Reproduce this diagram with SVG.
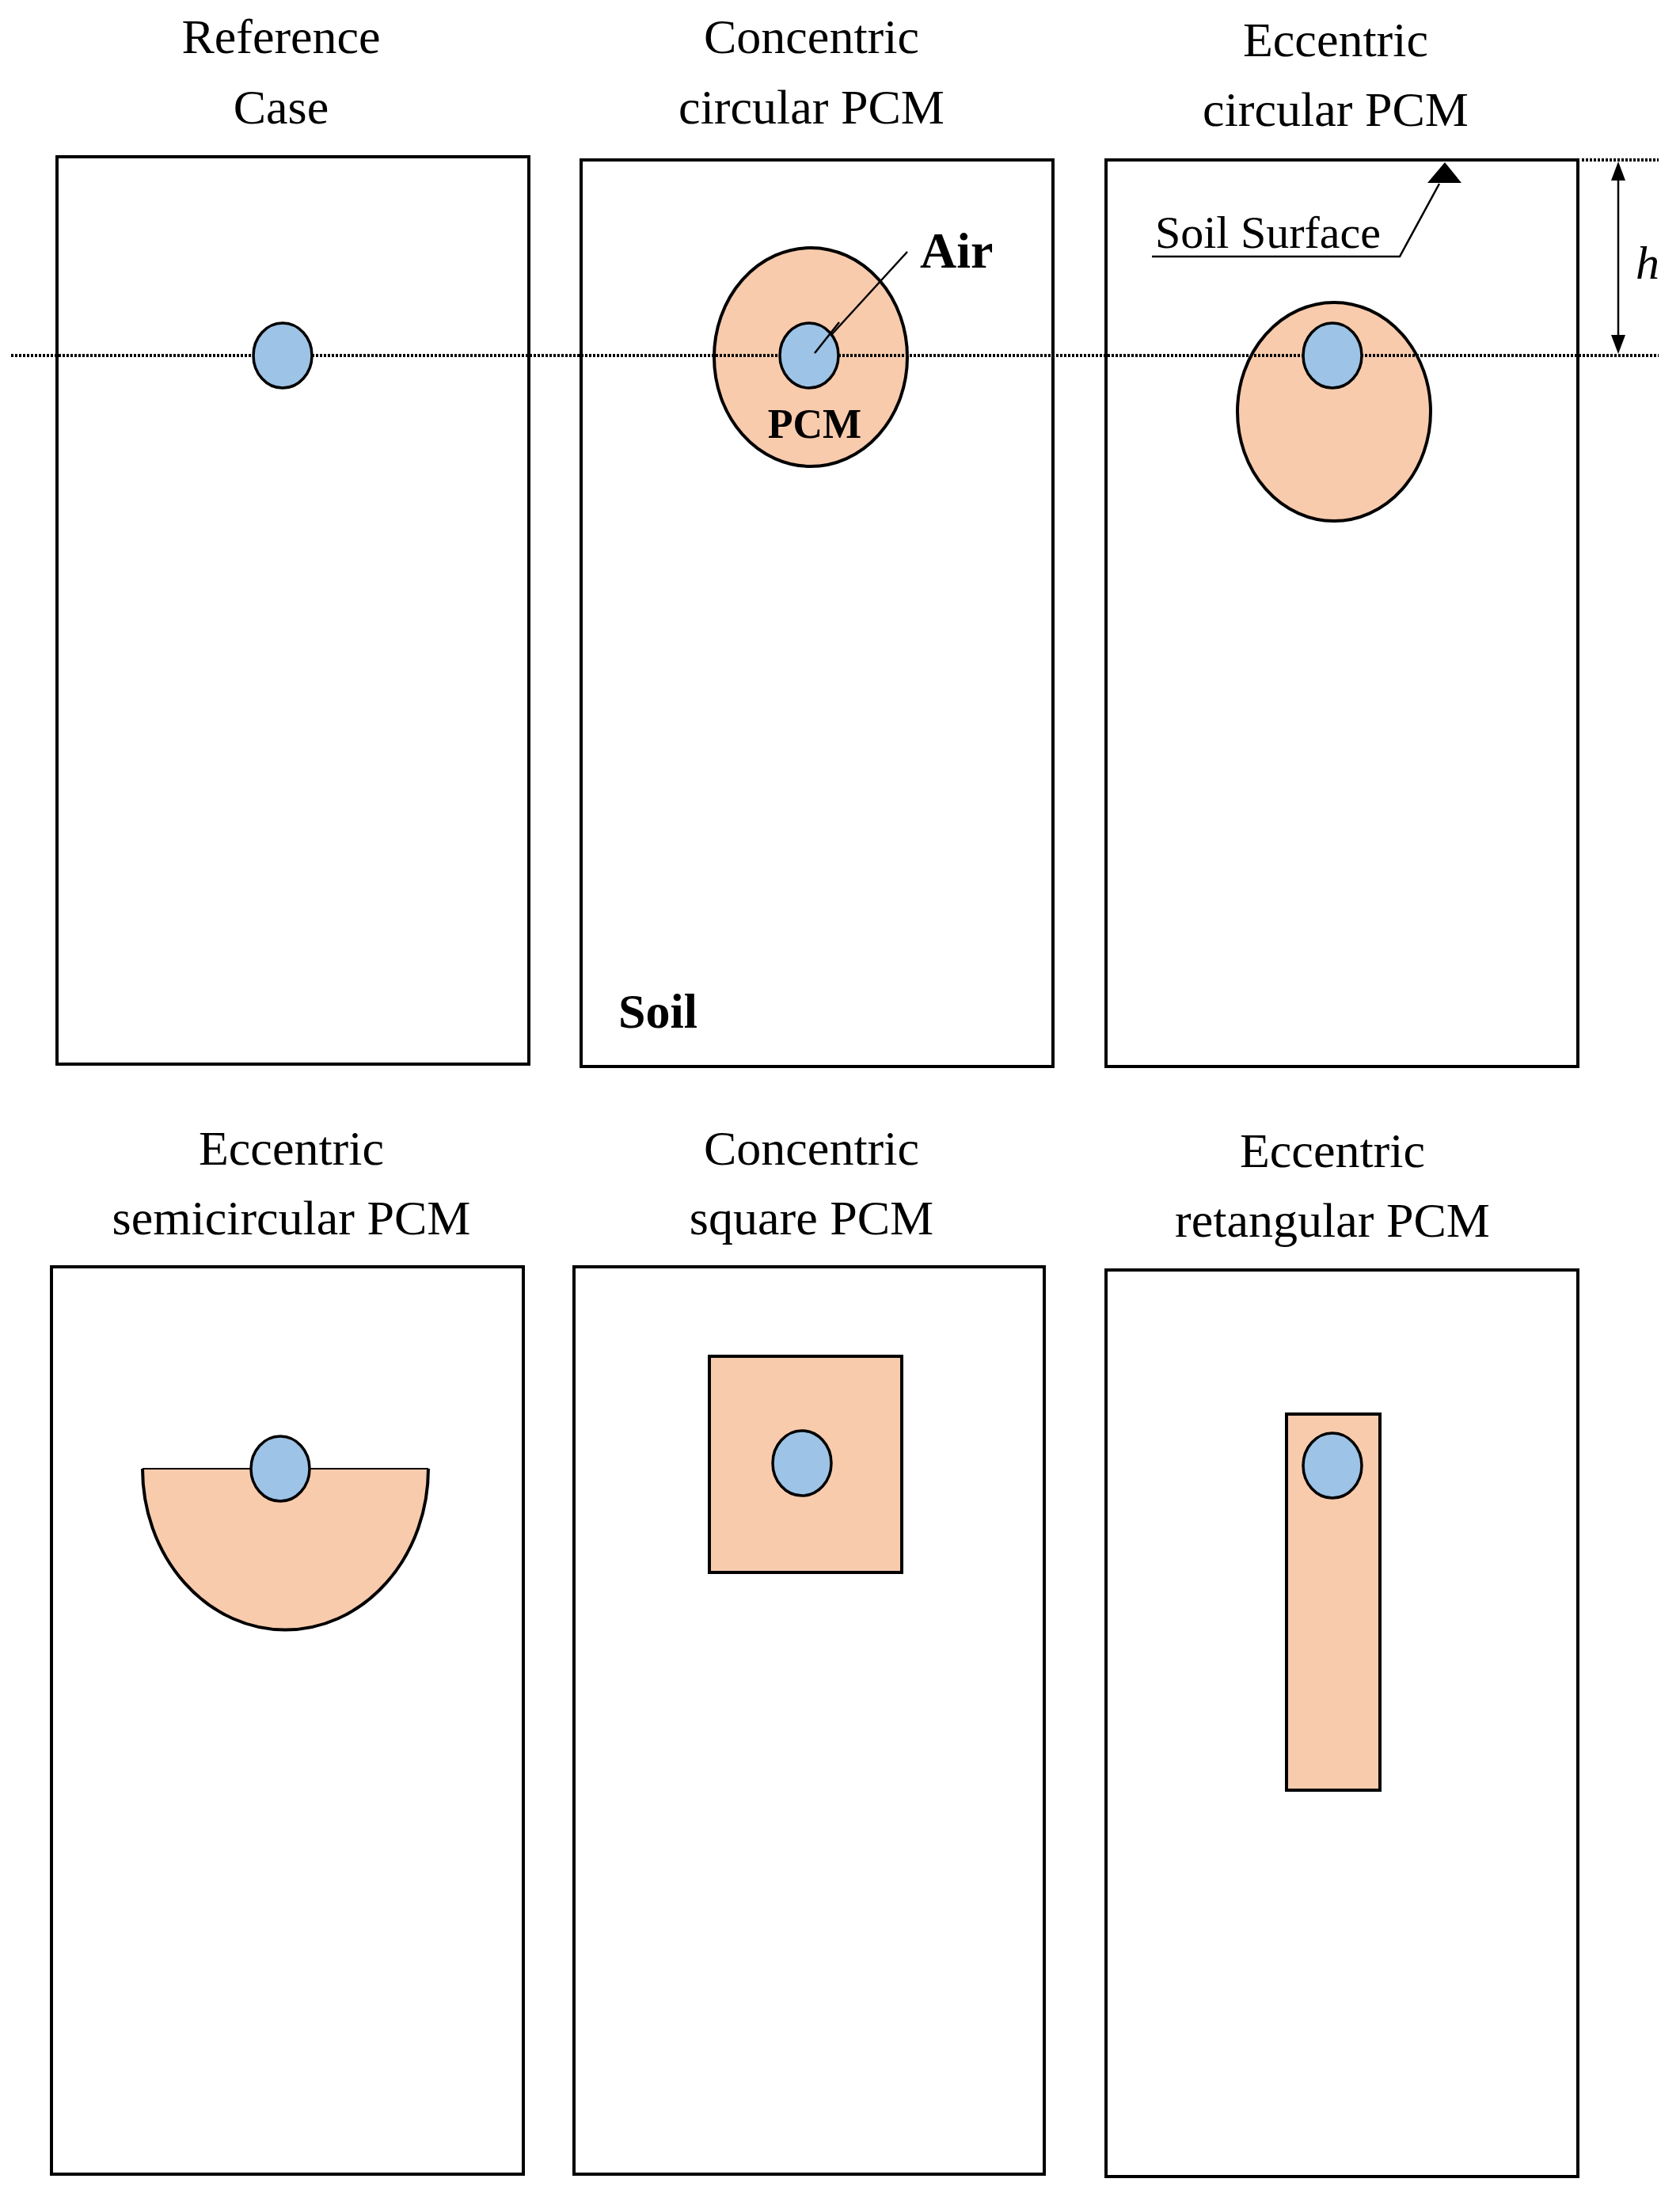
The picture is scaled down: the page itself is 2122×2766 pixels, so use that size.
<svg xmlns="http://www.w3.org/2000/svg" width="2122" height="2766" viewBox="0 0 2122 2766">
<style>
.box{fill:#fff;stroke:#000;stroke-width:4}
.pcm{fill:#F8CBAD;stroke:#000;stroke-width:4}
.air{fill:#9DC3E6;stroke:#000;stroke-width:3.5}
.t{font-family:"Liberation Serif",serif;font-size:62px;text-anchor:middle;fill:#000}
.b{font-family:"Liberation Serif",serif;font-weight:bold;fill:#000}
.ln{stroke:#000;stroke-width:2.5;fill:none}
.dot{stroke:#000;stroke-width:4;stroke-dasharray:3,2}
</style>
<rect width="2122" height="2766" fill="#fff"/>
<g id="case1">
<text class="t" x="355" y="67">Reference</text><text class="t" x="355" y="156">Case</text>
<rect class="box" x="72" y="198" width="596" height="1146"/>
</g>
<g id="case2">
<text class="t" x="1025" y="67">Concentric</text><text class="t" x="1025" y="156">circular PCM</text>
<rect class="box" x="734" y="202" width="596" height="1145"/>
<ellipse class="pcm" cx="1024" cy="451" rx="122" ry="138"/>
<text class="b" x="1029" y="553" font-size="52" text-anchor="middle">PCM</text>
<text class="b" x="1162" y="338" font-size="64">Air</text>
<text class="b" x="781" y="1298" font-size="62">Soil</text>
</g>
<g id="case3">
<text class="t" x="1687" y="71">Eccentric</text><text class="t" x="1687" y="159">circular PCM</text>
<rect class="box" x="1397" y="202" width="596" height="1145"/>
<ellipse class="pcm" cx="1685" cy="520" rx="122" ry="138"/>
<text x="1459" y="313" font-family="Liberation Serif,serif" font-size="58">Soil Surface</text>
<text x="2066" y="352" font-family="Liberation Serif,serif" font-style="italic" font-size="60">h</text>
</g>
<g id="case4">
<text class="t" x="368" y="1471">Eccentric</text><text class="t" x="368" y="1559">semicircular PCM</text>
<rect class="box" x="65" y="1600" width="596" height="1146"/>
<path class="pcm" d="M180,1855 A180,203 0 0 0 541,1855"/>
<line x1="180" y1="1855" x2="541" y2="1855" stroke="#000" stroke-width="2"/>
<ellipse class="air" cx="354" cy="1855" rx="37" ry="41"/>
</g>
<g id="case5">
<text class="t" x="1025" y="1471">Concentric</text><text class="t" x="1025" y="1559">square PCM</text>
<rect class="box" x="725" y="1600" width="594" height="1146"/>
<rect class="pcm" x="896" y="1713" width="243" height="273"/>
<ellipse class="air" cx="1013" cy="1848" rx="37" ry="41"/>
</g>
<g id="case6">
<text class="t" x="1683" y="1474">Eccentric</text><text class="t" x="1683" y="1562">retangular PCM</text>
<rect class="box" x="1397" y="1604" width="596" height="1145"/>
<rect class="pcm" x="1625" y="1786" width="118" height="475"/>
<ellipse class="air" cx="1683" cy="1851" rx="37" ry="41"/>
</g>
<g id="connectors">
<line class="dot" x1="14" y1="449" x2="2095" y2="449"/>
<line class="dot" x1="1998" y1="202" x2="2095" y2="202"/>
<line class="ln" x1="1146" y1="318" x2="1029" y2="446"/>
<polyline class="ln" points="1455,324 1768,324 1818,232"/>
<polygon points="1825,205 1803,231 1846,231" fill="#000"/>
<line class="ln" x1="2044" y1="226" x2="2044" y2="425"/>
<polygon points="2044,204 2035,228 2053,228" fill="#000"/>
<polygon points="2044,447 2035,423 2053,423" fill="#000"/>
</g>
<g id="airpipes">
<ellipse class="air" cx="357" cy="449" rx="37" ry="41"/>
<ellipse class="air" cx="1022" cy="449" rx="37" ry="41"/>
<line class="ln" x1="1060" y1="407" x2="1029" y2="446"/>
<ellipse class="air" cx="1683" cy="449" rx="37" ry="41"/>
</g>
</svg>
